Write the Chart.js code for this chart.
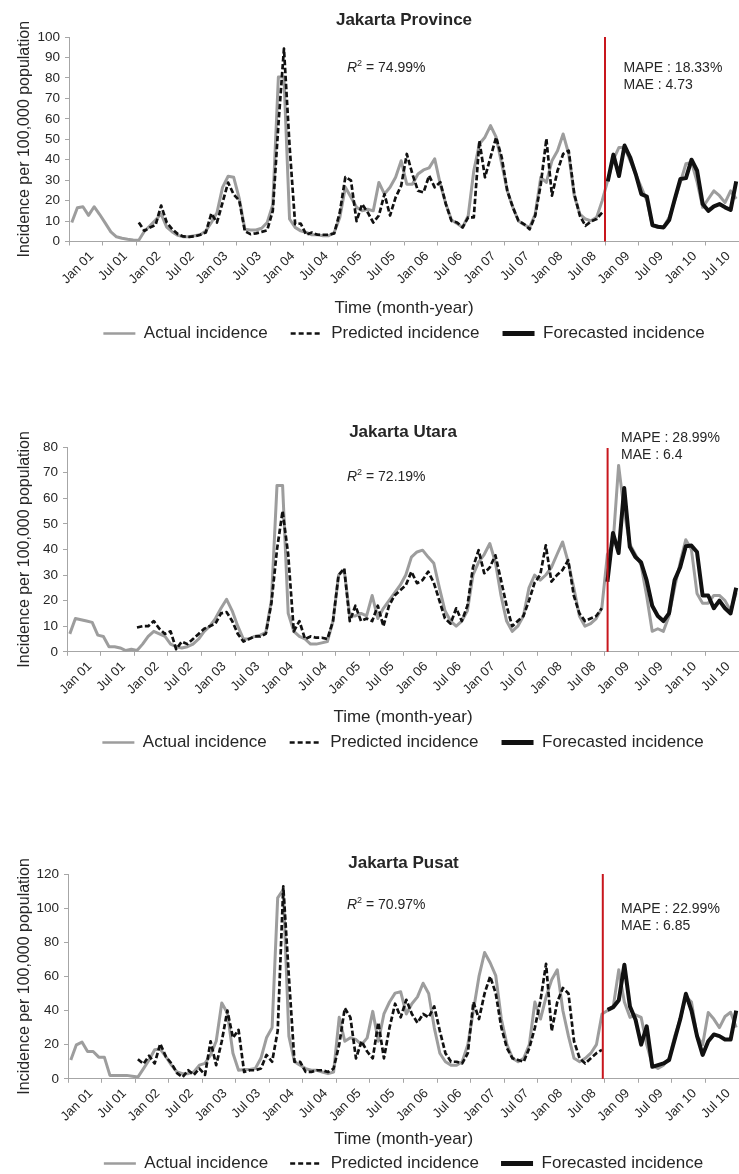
<!DOCTYPE html>
<html><head><meta charset="utf-8">
<script src="https://cdn.jsdelivr.net/npm/chart.js@4.4.1/dist/chart.umd.min.js"></script>
<style>
html,body{margin:0;padding:0;background:#fff;width:739px;height:1174px;overflow:hidden;position:relative}
canvas{position:absolute;left:0}
</style></head><body>
<canvas id="c1"></canvas><canvas id="c2"></canvas><canvas id="c3"></canvas>
<script>
// ---------- categories & tick labels ----------
const monthNames = ['Jan','Feb','Mar','Apr','May','Jun','Jul','Aug','Sep','Oct','Nov','Dec'];
const years = ['01','02','03','04','05','06','07','08','09','10'];
const categories = [];
years.forEach(y => monthNames.forEach(m => categories.push(m + ' ' + y)));
const tickLabels = ['Jan 01','Jul 01','Jan 02','Jul 02','Jan 03','Jul 03','Jan 04','Jul 04','Jan 05','Jul 05',
                    'Jan 06','Jul 06','Jan 07','Jul 07','Jan 08','Jul 08','Jan 09','Jul 09','Jan 10','Jul 10'];

// ---------- Jakarta Province ----------
const provActual = [
  9.3,16.5,17,12.8,17,13.2,9,4.7,2.3,1.6,1.1,0.7,
  0.6,5,7.7,10.5,13.5,7,4.7,3,2.3,2.3,2.8,3.3,
  5.2,9.3,14,26.5,31.9,31.4,21,6,5.6,5.6,6.5,9.3,
  18,80.4,80.4,11,6.9,5.2,4.4,3.3,3.3,2.8,2.8,4.4,
  11.8,26.5,21.6,16.7,15,15.8,15,28.9,23.2,26.5,31.4,39.5,
  28,28,33,35,36,40.4,28,18.3,10.5,8.8,6.9,12.6,
  34.6,47.7,51,56.7,51,38,24.8,16.7,10,8.2,6.9,13.4,
  31.4,28.9,39.5,44.4,52.6,42.8,22.4,13.4,11,10.1,11.8,20,
  30,40,46,46,39.5,33,26.5,20,7.7,6.9,7.2,11.8,
  20,29,38,38.7,29,16.7,20.8,24.8,22.4,19,24.8,20.8];
const provPredicted = [
  9.3,5.2,6.9,8,17.6,9.3,6,3.6,2.5,2.3,2.5,3.3,
  4.4,13.7,9.3,19,28.8,23,20,5,3.6,4,4.7,5.5,
  15,57,94.3,47,8.5,8.8,3.3,4.4,3.3,3.3,3.3,3.9,
  14.2,31.5,29.9,10,18.3,14.2,9.3,12.7,23.2,12.7,21.6,27.3,
  42.8,33,24.8,24,32.2,26.5,29,18.3,10.1,9.3,6.9,11.8,
  11.8,49.3,31.4,41.2,51,41.2,24.8,16.7,10.1,8.5,6,12.6,
  28,50.2,22.4,34.6,42.8,44.4,23.2,12.6,7.7,9.8,11,14.2];
const provForecast = [
  29.4,42.5,32,46.9,41.2,33,23.2,22,8,7.2,6.9,10.5,
  20.8,30.6,31,40,34.6,18.3,15,17.2,18.3,16.7,15.4,29.4];

// ---------- Jakarta Utara ----------
const utaraActual = [
  7,13,12.5,12,11.5,6.5,6,2,2,1.5,0.5,1,
  0.5,3,6,8,7,6,3,2,1.5,2,3,5,
  8,10,13,17,20.5,16,10,5,5,6,6.5,7.5,
  20,65,65,15,8,6,5,3,3,3.5,4,12,
  30,32,14,14,15,14,22,13,17,20,23,26,
  30,37,39,39.7,37,34.6,25,16,12,10,12,16,
  30,35,38,42.3,35,22,12,8,10,14,25,30,
  28,30,33,38,42.9,35,25,14,10,11,13,17,
  38,42,72.8,55,42,38,34,22,8,9,8,14,
  25,35,43.8,40,22.8,19,19,22,22,20,16,23];
const utaraPredicted = [
  9.5,10,10,12,9,7,8,1,4,3,5,7,
  9,10,11,15,15.5,12,7,4,5,6,6,7,
  19,40,55,38,8,12,5,6,5.5,5.5,5,12,
  30,32.6,12,18,12,13,12,18,10,18,22,24,
  26,31.3,26.8,28,31.3,27,20,13,11,17,12,18,
  33,39.7,30.7,33,37.7,28,18,10,12,14,20,27,
  30,41.6,27.4,30,32,35.8,22,15,12,13,14,17];
const utaraForecast = [
  27.4,46.4,38.6,64,41,37,35,28,18,14,12,15,
  28,33,41.2,41.5,39,22,22,17,20,17,15,25];

// ---------- Jakarta Pusat ----------
const pusatActual = [
  11,19.9,21.5,16,16,12.7,12.7,2,2,2,2,1.5,
  1,6,11,17,17.4,13,8,4,3,3,4,8,
  9,14,22,44.4,38.5,15,5,5.5,5.5,6,12,24,
  30,106,110.8,25,10,8,6,5,5,4,3,4,
  36,22,24,23,20,24,39.5,22,38,45,50.2,51,
  38,44,48,56,50,30,15,10,8,8,10,20,
  40,60,74,68,60.4,35,20,12,10,12,20,45,
  35,48,58,63.9,40,25,12,10,12,15,20,38,
  40,42,63.9,45,36,37.5,36,20,8,6,8,12,
  25,35,48.3,45,25,20,38.9,35,30,36.5,39,30];
const pusatPredicted = [
  11.5,8.8,13.5,9,20.5,13,9,3.3,1,5,2.3,6,
  2.3,22,8,22,40,24,28.7,4,5,5,6,14,
  10,28,112.7,60,10,10,4,4,5,5,4,6,
  20,41.4,36,12,22,16,12,33,12,30,44,36,
  46.3,38,32.8,38,36,42.4,28,15,10,10,9,15,
  45,35,50,60,50,30,18,12,11,10,18,30,
  46,67.4,28,45,53.2,50,22,12,9,12,15,17];
const pusatForecast = [
  40.4,42,46,66.8,42.4,34.6,20,30.7,7,8,9,11,
  23,35,49.8,40,25,14,22,26,25,23,23,40];

// ---------- drawing ----------
const FONT = '"Liberation Sans", Arial, sans-serif';
const TXT = '#262626';
const AXIS = '#a6a6a6';

const annotPlugin = {
  id: 'annot',
  afterDatasetsDraw(chart, args, o) {
    const {ctx, chartArea: ca, scales: {x}} = chart;
    const xb = (x.getPixelForValue(95) + x.getPixelForValue(96)) / 2 + o.redDx;
    ctx.save();
    ctx.strokeStyle = '#c8161d';
    ctx.lineWidth = 2;
    ctx.beginPath();
    ctx.moveTo(xb, ca.top + o.redTop);
    ctx.lineTo(xb, ca.bottom);
    ctx.stroke();
    ctx.fillStyle = TXT;
    ctx.textBaseline = 'middle';
    ctx.textAlign = 'left';
    let rx = o.r2x, ry = ca.top + o.r2dy;
    ctx.font = 'italic 14px ' + FONT;
    ctx.fillText('R', rx, ry);
    rx += ctx.measureText('R').width;
    ctx.font = '9px ' + FONT;
    ctx.fillText('2', rx, ry - 4);
    rx += ctx.measureText('2').width;
    ctx.font = '14px ' + FONT;
    ctx.fillText(' = ' + o.r2, rx, ry);
    ctx.fillText('MAPE : ' + o.mape, o.mx, ca.top + o.mdy);
    ctx.fillText('MAE : ' + o.mae, o.mx, ca.top + o.mdy + 16.7);
    ctx.restore();
  }
};

function pad(arr, before, total) {
  const out = new Array(total).fill(null);
  arr.forEach((v, i) => { out[before + i] = v; });
  return out;
}

function makeChart(id, L, title, actual, predicted, forecast, yMax, yStep, ann) {
  const cv = document.getElementById(id);
  cv.width = 739; cv.height = L.H;
  cv.style.top = L.T + 'px';
  cv.style.width = '739px'; cv.style.height = L.H + 'px';
  const n = categories.length;
  return new Chart(cv, {
    type: 'line',
    data: {
      labels: categories,
      datasets: [
        { label: 'Actual incidence', data: pad(actual, 0, n), borderColor: '#9d9d9d', borderWidth: 3, order: 3 },
        { label: 'Predicted incidence', data: pad(predicted, 12, n), borderColor: '#111', borderWidth: 2.7, borderDash: [5.5, 2.5], order: 2 },
        { label: 'Forecasted incidence', data: pad(forecast, 96, n), borderColor: '#111', borderWidth: 4, order: 1 }
      ]
    },
    options: {
      responsive: false,
      animation: false,
      devicePixelRatio: 1,
      layout: { padding: { left: 0, right: 0, top: 0, bottom: 0 } },
      elements: { point: { radius: 0 }, line: { tension: 0, borderJoinStyle: 'round' } },
      plugins: {
        tooltip: { enabled: false },
        title: {
          display: true, text: title, fullSize: false, color: TXT,
          font: { family: FONT, size: 17, weight: 'bold' },
          padding: { top: L.tp, bottom: L.tb }
        },
        legend: {
          position: 'bottom', fullSize: false,
          labels: {
            color: TXT, font: { family: FONT, size: 17 },
            usePointStyle: true, pointStyleWidth: 32, padding: L.lp,
            sort: (a, b) => a.datasetIndex - b.datasetIndex,
            generateLabels(chart) {
              return chart.data.datasets.map((ds, i) => ({
                text: ds.label + (i < 2 ? '\u2003' : ''),
                datasetIndex: i,
                fillStyle: ds.borderColor,
                strokeStyle: ds.borderColor,
                lineWidth: i === 2 ? 5 : 2.7,
                lineDash: i === 1 ? [5, 3] : [],
                pointStyle: 'line',
                fontColor: TXT,
                hidden: false
              }));
            }
          }
        },
        annot: ann
      },
      scales: {
        x: {
          type: 'category', offset: true,
          border: { color: AXIS, width: 1 },
          grid: { drawOnChartArea: false, offset: true, tickLength: 4,
                  tickColor: c => (c.index % 6 === 0 ? AXIS : 'rgba(0,0,0,0)') },
          ticks: {
            autoSkip: false, minRotation: 45, maxRotation: 45, padding: 3,
            labelOffset: 20, color: TXT, font: { family: FONT, size: 13 },
            callback: (v, i) => (i % 6 === 0 ? tickLabels[i / 6] : '')
          },
          title: { display: true, text: 'Time (month-year)', color: TXT,
                   font: { family: FONT, size: 17 }, padding: { top: 0, bottom: 0 } },
          afterFit: s => { s.height = L.xs; s.paddingLeft = 0; s.paddingRight = 0; }
        },
        y: {
          min: 0, max: yMax,
          border: { color: AXIS, width: 1 },
          grid: { drawOnChartArea: false, tickLength: 4, tickColor: AXIS },
          ticks: { stepSize: yStep, padding: 5, color: TXT, font: { family: FONT, size: 13.5 } },
          title: { display: true, text: 'Incidence per 100,000 population', color: TXT,
                   font: { family: FONT, size: 16 }, padding: { top: 15, bottom: 0 } },
          afterFit: s => { s.width = L.yw; }
        }
      }
    },
    plugins: [annotPlugin]
  });
}

makeChart('c1', { T: 0, H: 352, tp: 9.8, tb: 6.8, xs: 77.5, lp: 6, yw: 69 }, 'Jakarta Province',
  provActual, provPredicted, provForecast, 100, 10,
  { r2: '74.99%', mape: '18.33%', mae: '4.73', redTop: 0, redDx: 0, r2x: 347, r2dy: 31, mx: 623.5, mdy: 31.5 });
makeChart('c2', { T: 410, H: 351, tp: 11.8, tb: 4.8, xs: 76.2, lp: 6, yw: 67 }, 'Jakarta Utara',
  utaraActual, utaraPredicted, utaraForecast, 80, 10,
  { r2: '72.19%', mape: '28.99%', mae: '6.4', redTop: 1, redDx: 3, r2x: 347, r2dy: 30, mx: 621, mdy: -8.5 });
makeChart('c3', { T: 845, H: 337, tp: 8.6, tb: 0, xs: 71.2, lp: 5, yw: 68 }, 'Jakarta Pusat',
  pusatActual, pusatPredicted, pusatForecast, 120, 20,
  { r2: '70.97%', mape: '22.99%', mae: '6.85', redTop: 0, redDx: -2, r2x: 347, r2dy: 31, mx: 621, mdy: 35.5 });
</script>
</body></html>
